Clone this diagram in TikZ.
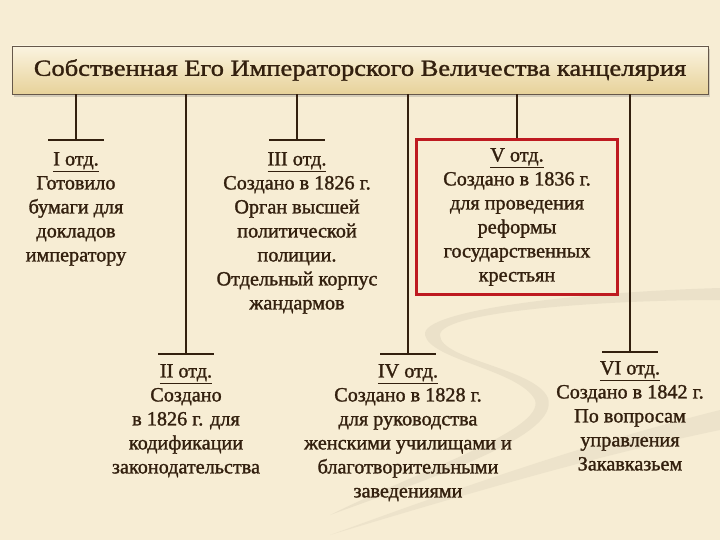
\documentclass[tikz,border=0pt]{standalone}
\usepackage{fontspec}
\setmainfont[FakeBold=1.4]{Liberation Serif}
\newfontfamily\titlefont[FakeStretch=1.15, FakeBold=1.4]{Liberation Serif}
\usetikzlibrary{positioning,shadows}

\definecolor{paper}{HTML}{F7EDD4}
\definecolor{ink}{HTML}{33200E}
\definecolor{frame}{HTML}{BE1A20}
\definecolor{swoosh}{HTML}{BDB5A0}
\definecolor{goldtop}{HTML}{FBF4E0}
\definecolor{goldbot}{HTML}{E7D29A}

\tikzset{
  dept/.style={align=center, text=ink, inner sep=0pt,
    font=\fontsize{20.2}{24}\selectfont},
  link/.style={draw=ink, line width=2.2pt},
  bar/.style={draw=ink, line width=2.4pt},
}
\newcommand{\otd}[1]{\underline{#1 отд.}}

\begin{document}
\begin{tikzpicture}[x=1pt,y=-1pt]

% background
\fill[paper] (0,0) rectangle (720,540);
\useasboundingbox (0,0) rectangle (720,540);
\fill[swoosh,opacity=0.2] (720,288) .. controls (580,292) and (420,310) .. (425,335)
  .. controls (430,360) and (520,370) .. (535,400)
  .. controls (545,430) and (420,470) .. (330,515)
  .. controls (440,475) and (560,435) .. (548,398)
  .. controls (535,368) and (440,360) .. (440,335)
  .. controls (440,312) and (600,300) .. (720,300) -- cycle;
\fill[swoosh,opacity=0.16] (720,410) .. controls (600,440) and (480,480) .. (330,535)
  .. controls (480,490) and (600,455) .. (720,430) -- cycle;

% title
\node[draw=ink!75, line width=0.8pt, minimum width=696, minimum height=48,
  top color=goldtop, bottom color=goldbot,
  drop shadow={shadow xshift=2pt, shadow yshift=-3pt, opacity=0.3},
  text=ink, font=\titlefont\fontsize{23}{26}\selectfont] (title) at (360,70)
  {Собственная Его Императорского Величества канцелярия};

% stub ends
\coordinate (s1) at (76,140);
\coordinate (s3) at (297,140);
\coordinate (s2) at (186,354);
\coordinate (s4) at (408,354);
\coordinate (s6) at (630,352);

% departments
\node[dept, below=12pt of s1] (d1) {\otd{I}\\Готовило\\бумаги для\\докладов\\императору};
\node[dept, below=12pt of s3] (d3) {\otd{III}\\Создано в 1826 г.\\Орган высшей\\политической\\полиции.\\Отдельный корпус\\жандармов};
\node[dept, draw=frame, line width=3.5pt, minimum width=201, minimum height=155]
  (d5) at (517,217) {\otd{V}\\Создано в 1836 г.\\для проведения\\реформы\\государственных\\крестьян};
\node[dept, below=10pt of s2] (d2) {\otd{II}\\Создано\\в 1826 г. для\\кодификации\\законодательства};
\node[dept, below=10pt of s4] (d4) {\otd{IV}\\Создано в 1828 г.\\для руководства\\женскими училищами и\\благотворительными\\заведениями};
\node[dept, below=9pt of s6] (d6) {\otd{VI}\\Создано в 1842 г.\\По вопросам\\управления\\Закавказьем};

% connectors
\draw[link] (title.south -| s1) -- (s1);
\draw[link] (title.south -| s2) -- (s2);
\draw[link] (title.south -| s3) -- (s3);
\draw[link] (title.south -| s4) -- (s4);
\draw[link] (title.south -| d5.north) -- (d5.north);
\draw[link] (title.south -| s6) -- (s6);

% bars
\draw[bar] ([xshift=-28pt]s1) -- ([xshift=28pt]s1);
\draw[bar] ([xshift=-28pt]s2) -- ([xshift=28pt]s2);
\draw[bar] ([xshift=-28pt]s3) -- ([xshift=28pt]s3);
\draw[bar] ([xshift=-28pt]s4) -- ([xshift=28pt]s4);
\draw[bar] ([xshift=-28pt]s6) -- ([xshift=28pt]s6);

\end{tikzpicture}
\end{document}
